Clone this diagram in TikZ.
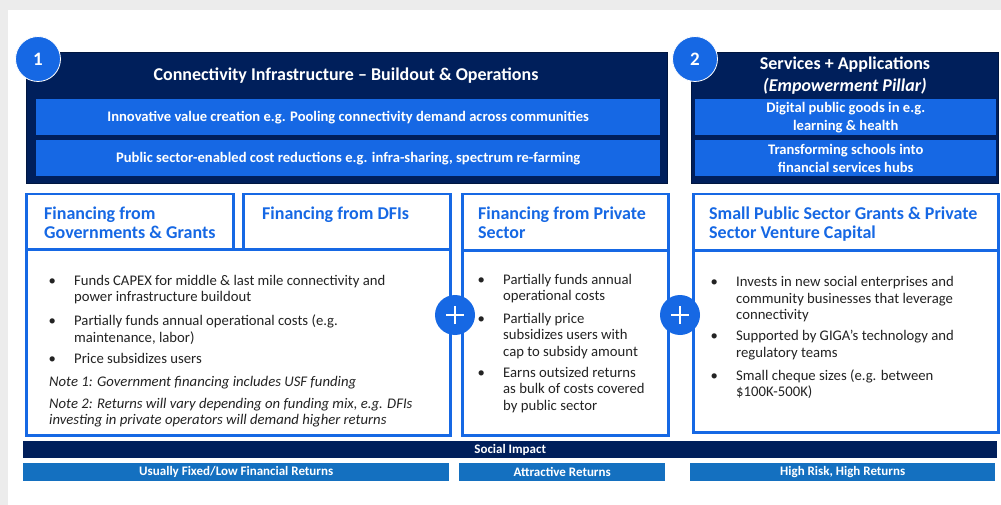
\documentclass[tikz,border=0pt]{standalone}
\usepackage{fontspec}
\setmainfont{Carlito}
\definecolor{navy}{RGB}{0,31,91}
\definecolor{gblue}{RGB}{22,104,228}
\definecolor{sblue}{RGB}{20,112,192}
\definecolor{paper}{RGB}{236,236,236}
\definecolor{ink}{RGB}{35,35,35}
\newcommand{\itm}[1]{\llap{\makebox[25.5pt][l]{\textbullet}}#1}
\begin{document}
\begin{tikzpicture}[
        x=1pt, y=-1pt,
        navybox/.style={fill=navy, draw=navy!70!black, line width=.6pt, anchor=north west, inner sep=0pt},
        barbox/.style={fill=gblue, anchor=north west, inner sep=0pt, text=white, align=center,
            font=\bfseries\fontsize{14.6}{18}\selectfont},
        hdrbox/.style={draw=gblue, line width=2.5pt, fill=white, anchor=north west, inner sep=0pt},
        strip/.style={anchor=north west, inner sep=0pt, text=white, font=\bfseries\fontsize{13}{15}\selectfont},
        numdot/.style={circle, fill=gblue, draw=white, line width=.8pt, minimum size=45pt, inner sep=0pt,
            text=white, font=\bfseries\fontsize{19}{22}\selectfont},
        plusdot/.style={circle, fill=gblue, minimum size=40pt, inner sep=0pt},
        hdrtext/.style={anchor=north west, inner sep=0pt, align=left, text=gblue,
            font=\bfseries\fontsize{18}{19}\selectfont},
        itemtext/.style={anchor=north west, inner sep=0pt, align=left, text=ink,
            font=\fontsize{14.7}{16.3}\selectfont},
        notetext/.style={itemtext, font=\itshape\fontsize{14.7}{16.3}\selectfont},
        ]
        \fill[paper] (0,0) rectangle (1001,505);
        \fill[white] (8,10) rectangle (1001,505);
        \useasboundingbox (0,0) rectangle (1001,505);

        % top pillars
        \node[navybox, minimum width=641, minimum height=131] (conn) at (26,52) {};
        \node[navybox, minimum width=307, minimum height=131] (serv) at (691,52) {};
        \node[text=white, font=\bfseries\fontsize{18}{20}\selectfont] (conntitle) at (346,76)
            {Connectivity Infrastructure -- Buildout \& Operations};
        \node[text=white, align=center, font=\bfseries\fontsize{18}{22}\selectfont] (servtitle) at (845,76)
            {Services + Applications\\\textit{(Empowerment Pillar)}};
        \node[barbox, minimum width=624, minimum height=36] (bar1) at (36,99)
            {Innovative value creation e.g. Pooling connectivity demand across communities};
        \node[barbox, minimum width=624, minimum height=36] (bar2) at (36,140)
            {Public sector-enabled cost reductions e.g. infra-sharing, spectrum re-farming};
        \node[barbox, minimum width=301, minimum height=36] (bar3) at (695,99)
            {Digital public goods in e.g.\\learning \& health};
        \node[barbox, minimum width=301, minimum height=36] (bar4) at (695,140)
            {Transforming schools into\\financial services hubs};
        \node[numdot] (one) at (38,59) {1};
        \node[numdot] (two) at (695,59) {2};

        % financing boxes
        \node[hdrbox, minimum width=207, minimum height=55] (gov) at (25,193) {};
        \node[hdrbox, minimum width=207, minimum height=55] (dfi) at (242,193) {};
        \node[hdrbox, minimum width=424, minimum height=186] (pub) at (25,248) {};
        \node[hdrbox, minimum width=206, minimum height=56] (prv) at (461,193) {};
        \node[hdrbox, minimum width=206, minimum height=185] (prvbody) at (461,249) {};
        \node[hdrbox, minimum width=305, minimum height=56] (vc) at (692,193) {};
        \node[hdrbox, minimum width=305, minimum height=182] (vcbody) at (692,249) {};

        \node[hdrtext] (govtext) at (44,206.5) {Financing from\\Governments \& Grants};
        \node[hdrtext] (dfitext) at (262,206.5) {Financing from DFIs};
        \node[hdrtext] (prvtext) at (478,206.5) {Financing from Private\\Sector};
        \node[hdrtext] (vctext) at (709,206.5) {Small Public Sector Grants \& Private\\Sector Venture Capital};

        \node[itemtext] (g1) at (74,275) {\itm{Funds CAPEX for middle \& last mile connectivity and}\\power infrastructure buildout};
        \node[itemtext] (g2) at (74,315) {\itm{Partially funds annual operational costs (e.g.}\\maintenance, labor)};
        \node[itemtext] (g3) at (74,353) {\itm{Price subsidizes users}};
        \node[notetext] (n1) at (49,376) {Note 1: Government financing includes USF funding};
        \node[notetext] (n2) at (49,398) {Note 2: Returns will vary depending on funding mix, e.g. DFIs\\investing in private operators will demand higher returns};

        \node[itemtext] (p1) at (503,274) {\itm{Partially funds annual}\\operational costs};
        \node[itemtext] (p2) at (503,313) {\itm{Partially price}\\subsidizes users with\\cap to subsidy amount};
        \node[itemtext] (p3) at (503,367) {\itm{Earns outsized returns}\\as bulk of costs covered\\by public sector};

        \node[itemtext] (v1) at (736,276.3) {\itm{Invests in new social enterprises and}\\community businesses that leverage\\connectivity};
        \node[itemtext] (v2) at (736,330.3) {\itm{Supported by GIGA’s technology and}\\regulatory teams};
        \node[itemtext] (v3) at (736,369.3) {\itm{Small cheque sizes (e.g. between}\\\$100K-500K)};

        % plus signs
        \node[plusdot] (plusa) at (455,315) {};
        \node[plusdot] (plusb) at (680,315) {};
        \foreach \p in {plusa,plusb}{
            \draw[white, line width=2.6pt] ([xshift=-9pt]\p.center) -- ([xshift=9pt]\p.center);
            \draw[white, line width=2.6pt] ([yshift=-9pt]\p.center) -- ([yshift=9pt]\p.center);
        }

        % returns
        \node[strip, fill=navy, minimum width=974, minimum height=17] (impact) at (23,441) {Social Impact};
        \node[strip, fill=sblue, minimum width=426, minimum height=18] (low) at (23,463) {Usually Fixed/Low Financial Returns};
        \node[strip, fill=sblue, minimum width=206, minimum height=18] (mid) at (459,463) {Attractive Returns};
        \node[strip, fill=sblue, minimum width=305, minimum height=18] (high) at (690,463) {High Risk, High Returns};
        \end{tikzpicture}
\end{document}
